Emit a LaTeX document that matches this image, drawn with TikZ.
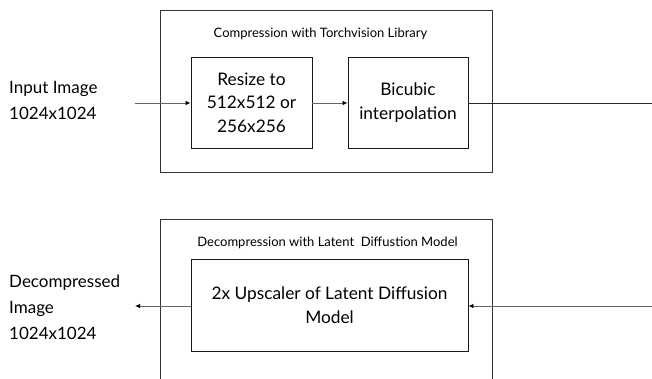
\documentclass[tikz,border=0pt]{standalone}
\usepackage{fontspec}
\setmainfont{Lato}
\usetikzlibrary{arrows.meta}
\begin{document}
\begin{tikzpicture}[x=1pt,y=-1pt,
  outerbox/.style={draw=black!80,line width=0.9pt,minimum width=332pt,inner sep=0pt},
  stepbox/.style={draw=black!90,line width=0.9pt,inner sep=0pt,align=center,font=\fontsize{17.3}{23.5}\selectfont},
  ttl/.style={font=\fontsize{13}{15}\selectfont,inner sep=0pt},
  lbl/.style={align=left,anchor=west,inner sep=0pt,font=\fontsize{17}{26}\selectfont},
  conn/.style={draw=black!60,line width=0.8pt,-{Latex[length=5pt,width=4.5pt,color=black]}},
  plain/.style={draw=black!85,line width=0.8pt}]
\useasboundingbox (0,0) rectangle (652,379);
\clip (0,0) rectangle (652,379);
% top
\node[outerbox,minimum height=162pt] (outer1) at (326,91) {};
\node[ttl] (title1) at (320.5,34) {Compression with Torchvision Library};
\node[stepbox,minimum width=121pt,minimum height=91pt] (resize) at (251.5,102.5) {Resize to\\512x512 or\\256x256};
\node[stepbox,minimum width=120pt,minimum height=91pt] (bicubic) at (408,102.5) {Bicubic\\interpolation};
\node[lbl] (input) at (9,100) {Input Image\\1024x1024};
\coordinate (in1) at (135,103);
\coordinate (right1) at (652,103);
\draw[conn] (in1) -- (resize.west |- in1);
\draw[conn] (resize.east |- in1) -- (bicubic.west |- in1);
\draw[plain] (bicubic.east |- right1) -- (right1);
% bottom
\node[outerbox,minimum height=181pt] (outer2) at (326,309.5) {};
\node[ttl] (title2) at (327.5,243) {Decompression with Latent\ \ Diffustion Model};
\node[stepbox,minimum width=277pt,minimum height=92pt] (upscaler) at (329.5,305) {2x Upscaler of Latent Diffusion\\Model};
\node[lbl] (output) at (9,307) {Decompressed\\Image\\1024x1024};
\coordinate (out2) at (135,306);
\coordinate (right2) at (652,306);
\draw[conn] (upscaler.west |- out2) -- (out2);
\draw[conn] (right2) -- (upscaler.east |- right2);
\end{tikzpicture}
\end{document}
